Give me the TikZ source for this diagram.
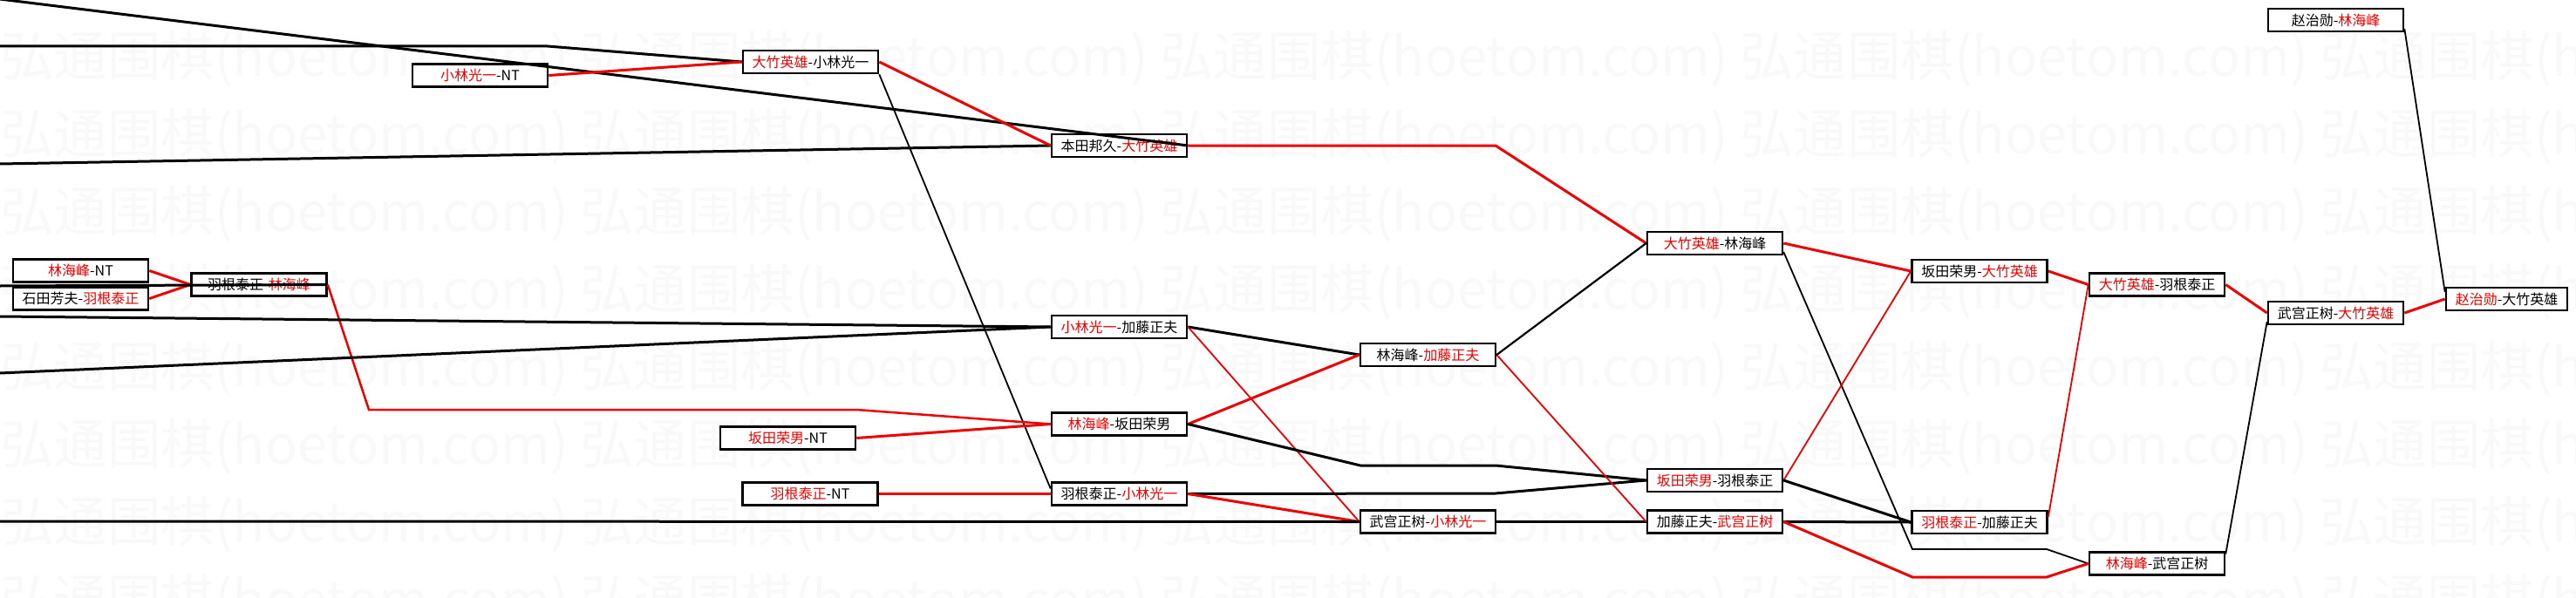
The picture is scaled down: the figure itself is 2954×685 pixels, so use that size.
\documentclass[tikz,border=0pt]{standalone}
\usepackage{fontspec}
\usepackage{graphicx}
\newfontfamily\cjk{Noto Sans CJK SC}
\usetikzlibrary{calc}
\definecolor{wred}{RGB}{238,0,0}
\definecolor{wmark}{gray}{0.975}
\newcommand\redname[1]{\textcolor{wred}{#1}}
\begin{document}
\begin{tikzpicture}[x=1pt,y=-1pt,
  match/.style={draw=black,line width=2.6pt,fill=white,minimum width=155pt,minimum height=26pt,inner sep=0pt,font=\cjk\fontsize{16}{16}\selectfont},
  thk/.style={line width=3pt},
  thn/.style={line width=1.8pt},
  rd/.style={draw=wred},
  bk/.style={draw=black},
  wm/.style={anchor=west,inner sep=0pt,text=wmark,font=\cjk}]
\useasboundingbox (0,0) rectangle (2954,685);
\begin{scope}
\clip (0,0) rectangle (2954,685);
% watermark
\foreach \r in {0,...,7}{
  \foreach \c in {0,...,4}{
    \node[wm] (wm\r\c) at (665*\c, 68+89*\r) {\resizebox{652pt}{52pt}{弘通围棋(hoetom.com)}};
  }
}
% boxes
\node[match] (n1) at (550.5,86.5) {\redname{小林光一}-NT};
\node[match] (n2) at (929.5,71) {\redname{大竹英雄}-小林光一};
\node[match] (n3) at (1283.5,167) {本田邦久-\redname{大竹英雄}};
\node[match] (n4) at (2678.5,23) {赵治勋-\redname{林海峰}};
\node[match] (n5) at (92.5,310.5) {\redname{林海峰}-NT};
\node[match] (n6) at (92.5,342.5) {石田芳夫-\redname{羽根泰正}};
\node[match] (n7) at (297,326.5) {羽根泰正-\redname{林海峰}};
\node[match] (n8) at (1283.5,375) {\redname{小林光一}-加藤正夫};
\node[match] (n9) at (1637.5,407) {林海峰-\redname{加藤正夫}};
\node[match] (n10) at (1966.5,279) {\redname{大竹英雄}-林海峰};
\node[match] (n11) at (2270,311) {坂田荣男-\redname{大竹英雄}};
\node[match] (n12) at (2473.5,326.5) {\redname{大竹英雄}-羽根泰正};
\node[match] (n13) at (2678.5,359) {武宫正树-\redname{大竹英雄}};
\node[match,minimum width=139pt] (n14) at (2874.5,343) {\redname{赵治勋}-大竹英雄};
\node[match] (n15) at (903.5,502.5) {\redname{坂田荣男}-NT};
\node[match] (n16) at (929,566.5) {\redname{羽根泰正}-NT};
\node[match] (n17) at (1283.5,486.5) {\redname{林海峰}-坂田荣男};
\node[match] (n18) at (1283.5,566.5) {羽根泰正-\redname{小林光一}};
\node[match] (n19) at (1637.5,598.5) {武宫正树-\redname{小林光一}};
\node[match] (n20) at (1966.5,551) {\redname{坂田荣男}-羽根泰正};
\node[match] (n21) at (1966.5,598.5) {加藤正夫-\redname{武宫正树}};
\node[match] (n22) at (2270,599) {\redname{羽根泰正}-加藤正夫};
\node[match] (n23) at (2473.5,646.5) {\redname{林海峰}-武宫正树};
% free ends at the left edge and bends
\coordinate (ea) at (0,-1);
\coordinate (eb) at (0,53);
\coordinate (bb) at (628,53);
\coordinate (ed) at (0,188);
\coordinate (ej) at (0,328);
\coordinate (el) at (0,363);
\coordinate (em) at (0,428);
\coordinate (ev) at (0,598);
\coordinate (bg) at (1715,167);
\coordinate (bk1) at (423,470);
\coordinate (bk2) at (982,470);
\coordinate (bq1) at (1560,534);
\coordinate (bq2) at (1715,534);
\coordinate (bt) at (1715,566);
\coordinate (bz1) at (2193,630);
\coordinate (bz2) at (2347,630);
\coordinate (bz3) at (2193,662);
\coordinate (bz4) at (2347,662);
% connectors
\draw[thk,bk] (ea) -- (n3.east);
\draw[thk,bk] (eb) -- (bb) -- (n2.west);
\draw[thk,rd] (n1.east) -- (n2.west);
\draw[thk,bk] (ed) -- (n3.west);
\draw[thk,rd] (n2.east) -- (n3.west);
\draw[thn,bk] (n2.south east) -- ([yshift=6pt]n18.west);
\draw[thk,rd] (n3.east) -- (bg) -- (n10.west);
\draw[thk,rd] (n5.east) -- (n7.west);
\draw[thk,rd] (n6.east) -- (n7.west);
\draw[thk,bk] (ej) -- (n7.east);
\draw[line width=2.5pt,rd] (n7.east) -- (bk1) -- (bk2) -- (n17.west);
\draw[thk,bk] (el) -- (n8.west);
\draw[thk,bk] (em) -- (n8.west);
\draw[thk,bk] (n8.east) -- (n9.west);
\draw[thk,rd] (n17.east) -- (n9.west);
\draw[thn,rd] (n8.east) -- (n19.west);
\draw[thk,bk] (n17.east) -- (bq1) -- (bq2) -- (n20.west);
\draw[thk,rd] (n15.east) -- (n17.west);
\draw[thk,rd] (n16.east) -- (n18.west);
\draw[thk,bk] (n18.east) -- (bt) -- (n20.west);
\draw[thk,rd] (n18.east) -- (n19.west);
\draw[thk,bk] (ev) -- (n19.west);
\draw[thk,bk] (n19.east) -- (n21.west);
\draw[thn,rd] (n9.east) -- (n21.west);
\draw[line width=2.2pt,bk] (n9.east) -- (n10.west);
\draw[thk,rd] (n10.east) -- (n11.west);
\draw[thn,bk] ([yshift=-10pt]n10.east) -- (bz1) -- (bz2) -- (n23.west);
\draw[thn,rd] (n20.east) -- (n11.west);
\draw[thk,bk] (n20.east) -- (n22.west);
\draw[thk,bk] (n21.east) -- (n22.west);
\draw[thk,rd] (n21.east) -- (bz3) -- (bz4) -- (n23.west);
\draw[thk,rd] (n11.east) -- (n12.west);
\draw[thn,rd] ([yshift=6pt]n22.east) -- (n12.west);
\draw[thk,rd] (n12.east) -- (n13.west);
\draw[thn,bk] ([yshift=11pt]n23.east) -- ([yshift=-10pt]n13.west);
\draw[thk,rd] (n13.east) -- (n14.west);
\draw[thn,bk] ([yshift=-10pt]n4.east) -- ([yshift=8pt]n14.west);
\end{scope}
\end{tikzpicture}
\end{document}
